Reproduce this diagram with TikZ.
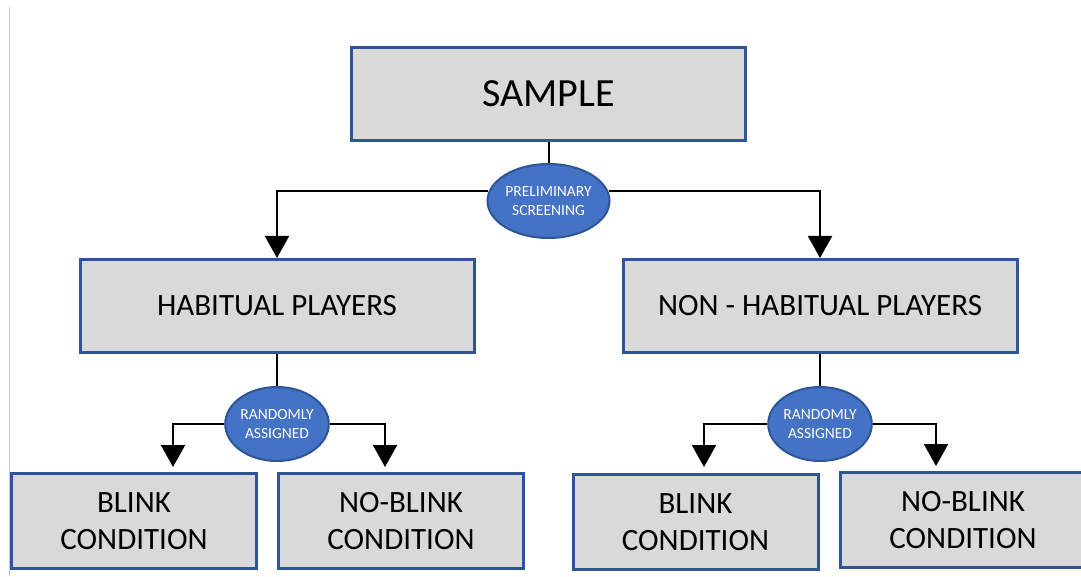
\documentclass[tikz,border=0pt]{standalone}
\usepackage{fontspec}
\setmainfont{Carlito}
\usetikzlibrary{arrows.meta,shapes.geometric}
\definecolor{boxgray}{HTML}{D9D9D9}
\definecolor{boxblue}{HTML}{2F5597}
\definecolor{ovalblue}{HTML}{4472C4}

\begin{document}
\begin{tikzpicture}[x=1pt,y=1pt,
    box/.style={draw=boxblue,line width=3pt,fill=boxgray,inner sep=1pt,align=center},
    big/.style={box,minimum width=394pt,minimum height=93pt,font=\fontsize{31}{37.5}\selectfont},
    cond/.style={box,minimum width=245pt,minimum height=95pt,font=\fontsize{31}{37.5}\selectfont},
    oval/.style={ellipse,draw=boxblue,line width=2pt,fill=ovalblue,text=white,inner sep=0pt,
      minimum width=100pt,minimum height=74pt,align=center,font=\fontsize{15.5}{19}\selectfont},
    arr/.style={line width=2pt,-{Triangle[width=24pt,length=22pt]}}]
  \useasboundingbox (0,0) rectangle (1081,576);
  \draw[black!20,line width=1pt] (9,569) -- (9,0);
  \node[big,font=\fontsize{40}{48}\selectfont] (s) at (548.5,482) {SAMPLE};
  \node[oval] (scr) at (548.5,375) {PRELIMINARY\\SCREENING};
  \node[big] (h) at (277,270) {HABITUAL PLAYERS};
  \node[big] (nh) at (820,270) {NON - HABITUAL PLAYERS};
  \node[oval] (rh) at (277,152) {RANDOMLY\\ASSIGNED};
  \node[oval] (rn) at (820,152) {RANDOMLY\\ASSIGNED};
  \node[cond] (hb) at (134,55) {BLINK\\CONDITION};
  \node[cond] (hnb) at (401,55) {NO-BLINK\\CONDITION};
  \node[cond] (nb) at (695.5,54) {BLINK\\CONDITION};
  \node[cond] (nnb) at (963,56) {NO-BLINK\\CONDITION};
  \draw[line width=2pt] (s.south) -- (scr.north);
  \draw[arr] (scr.171) -| (h.north);
  \draw[arr] (scr.9) -| (nh.north);
  \draw[line width=2pt] (h.south) -- (rh.north);
  \draw[line width=2pt] (nh.south) -- (rn.north);
  \draw[arr,shorten >=5pt] (rh.west) -| ([xshift=39pt]hb.north);
  \draw[arr,shorten >=5pt] (rh.east) -| ([xshift=-16pt]hnb.north);
  \draw[arr,shorten >=6pt] (rn.west) -| ([xshift=8.5pt]nb.north);
  \draw[arr,shorten >=5pt] (rn.east) -| ([xshift=-27pt]nnb.north);
\end{tikzpicture}
\end{document}
